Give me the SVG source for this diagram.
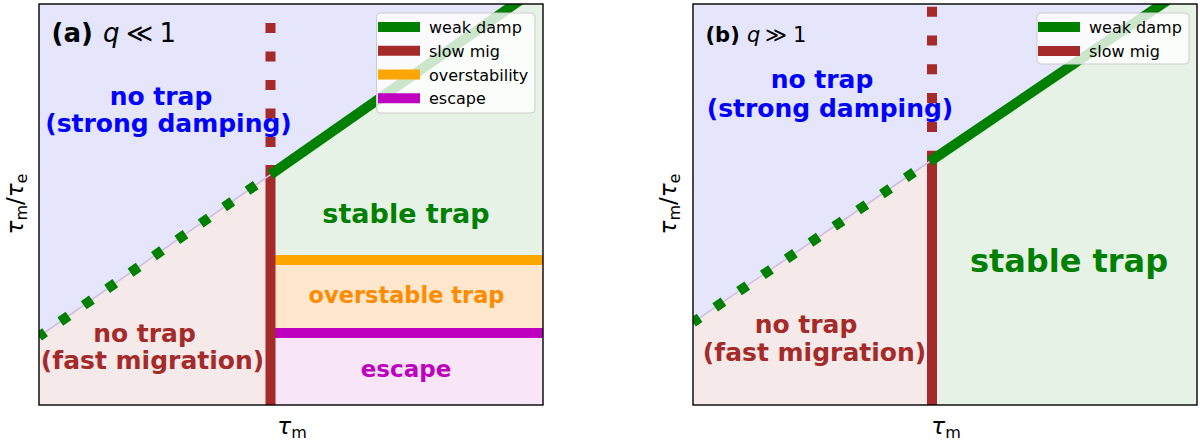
<svg xmlns="http://www.w3.org/2000/svg" width="1200" height="442" viewBox="0 0 1200 442">
<style>
text{font-family:"DejaVu Sans","Liberation Sans",sans-serif;}
.lbl{font-weight:bold;text-anchor:middle;}
.leg{font-size:16px;fill:#000;}
.legbox{fill:#fff;fill-opacity:0.8;stroke:#cccccc;stroke-width:1;}
.frame{fill:none;stroke:#000;stroke-width:1.4;}
.gsolid{stroke:#008000;stroke-width:10;fill:none;}
.gdot{stroke:#008000;stroke-width:10;fill:none;}
.bsolid{stroke:#a52a2a;stroke-width:10;fill:none;}
.edge{stroke:#cdbfe2;stroke-width:1.6;fill:none;}
.ax{font-size:23px;fill:#000;}
.it{font-style:italic;}
</style>
<defs>
<clipPath id="clipA"><rect x="39" y="4" width="504" height="401"/></clipPath>
<clipPath id="clipB"><rect x="693" y="4" width="504" height="401"/></clipPath>
</defs>
<rect width="1200" height="442" fill="#fff"/>

<g id="panelA-regions" clip-path="url(#clipA)">
<polygon id="a-nodamp" points="39,4 515.3,4 39,336.5" fill="#e5e5fc"/>
<polygon id="a-fastmig" points="39,336.5 270.5,174.7 270.5,405 39,405" fill="#f5e9e9"/>
<polygon id="a-stable" points="270.5,174.7 515.3,4 543,4 543,260 270.5,260" fill="#e6f2e6"/>
<rect id="a-overstable" x="270.5" y="260" width="272.5" height="73" fill="#fee7cc"/>
<rect id="a-escape" x="270.5" y="333" width="272.5" height="72" fill="#f8e5f8"/>
</g>

<g id="panelB-regions" clip-path="url(#clipB)">
<polygon id="b-nodamp" points="693,4 1161.5,4 693,322.4" fill="#e5e5fc"/>
<polygon id="b-fastmig" points="693,322.4 932,160 932,405 693,405" fill="#f5e9e9"/>
<polygon id="b-stable" points="932,160 1161.5,4 1197,4 1197,405 932,405" fill="#e6f2e6"/>
</g>

<g id="connectors">
<g clip-path="url(#clipA)">
<line x1="270.5" y1="260" x2="543" y2="260" stroke="#ffa500" stroke-width="10"/>
<line x1="270.5" y1="333" x2="543" y2="333" stroke="#bf00bf" stroke-width="10"/>
<line x1="270.5" y1="23" x2="270.5" y2="147" class="bsolid" stroke-dasharray="10 18.5"/>
<line x1="270.5" y1="165" x2="270.5" y2="405" class="bsolid"/>
<line x1="39" y1="336.5" x2="270.5" y2="174.7" class="edge"/>
<line x1="39" y1="336.5" x2="270.5" y2="174.7" class="gdot" stroke-dasharray="10 18.55" stroke-dashoffset="2.56"/>
<path d="M270.5,174.7 L525,-3.2" class="gsolid"/>
</g>
<g clip-path="url(#clipB)">
<line x1="932" y1="6.7" x2="932" y2="132" class="bsolid" stroke-dasharray="10 18.8"/>
<line x1="932" y1="150.7" x2="932" y2="405" class="bsolid"/>
<line x1="693" y1="322.4" x2="932" y2="160" class="edge"/>
<line x1="693" y1="322.4" x2="932" y2="160" class="gdot" stroke-dasharray="10 18.8" stroke-dashoffset="2"/>
<path d="M932,160 L1172,-2.7" class="gsolid"/>
</g>
</g>

<g id="frames">
<rect x="39" y="4" width="504" height="401" class="frame"/>
<rect x="693" y="4" width="504" height="401" class="frame"/>
</g>

<!-- Panel (a) texts -->
<g id="a-title">
<text y="42" font-size="26"><tspan x="51.5" font-weight="bold">(a)</tspan><tspan x="103" class="it">q</tspan><tspan x="126">≪</tspan><tspan x="159.5">1</tspan></text>
</g>
<g id="a-label-nodamp">
<text class="lbl" x="161" y="105" font-size="25" fill="#0000ff">no trap</text>
<text class="lbl" x="168.5" y="132" font-size="25" fill="#0000ff">(strong damping)</text>
</g>
<g id="a-label-fastmig">
<text class="lbl" x="144.5" y="342" font-size="25" fill="#a52a2a">no trap</text>
<text class="lbl" x="152.5" y="369" font-size="25" fill="#a52a2a">(fast migration)</text>
</g>
<g id="a-label-stable"><text class="lbl" x="406" y="223" font-size="27" fill="#008000">stable trap</text></g>
<g id="a-label-overstable"><text class="lbl" x="406.5" y="303" font-size="22.5" fill="#ff8c00">overstable trap</text></g>
<g id="a-label-escape"><text class="lbl" x="406" y="377" font-size="23" fill="#bf00bf">escape</text></g>

<g id="a-legend">
<rect x="376.5" y="13" width="158.5" height="100" rx="4" class="legbox"/>
<line x1="378" y1="27" x2="420" y2="27" stroke="#008000" stroke-width="10"/>
<line x1="378" y1="50.7" x2="420" y2="50.7" stroke="#a52a2a" stroke-width="10"/>
<line x1="378" y1="74.5" x2="420" y2="74.5" stroke="#ffa500" stroke-width="10"/>
<line x1="378" y1="98.2" x2="420" y2="98.2" stroke="#bf00bf" stroke-width="10"/>
<text class="leg" x="429" y="33">weak damp</text>
<text class="leg" x="429" y="56.7">slow mig</text>
<text class="leg" x="429" y="80.5">overstability</text>
<text class="leg" x="429" y="104.2">escape</text>
</g>

<g id="a-axes">
<text class="ax" x="292" y="434" text-anchor="middle"><tspan class="it">τ</tspan><tspan font-size="16" dy="3.5">m</tspan></text>
<text class="ax" transform="translate(23,204) rotate(-90)" text-anchor="middle"><tspan class="it">τ</tspan><tspan font-size="16" dy="3.5">m</tspan><tspan dy="-3.5">/</tspan><tspan class="it">τ</tspan><tspan font-size="16" dy="3.5">e</tspan></text>
</g>

<!-- Panel (b) texts -->
<g id="b-title">
<text y="42" font-size="21"><tspan x="705.5" font-weight="bold">(b)</tspan><tspan x="747" class="it">q</tspan><tspan x="765">≫</tspan><tspan x="793">1</tspan></text>
</g>
<g id="b-label-nodamp">
<text class="lbl" x="822" y="88" font-size="25" fill="#0000ff">no trap</text>
<text class="lbl" x="830" y="117" font-size="25" fill="#0000ff">(strong damping)</text>
</g>
<g id="b-label-fastmig">
<text class="lbl" x="806" y="333" font-size="25" fill="#a52a2a">no trap</text>
<text class="lbl" x="814.5" y="361" font-size="25" fill="#a52a2a">(fast migration)</text>
</g>
<g id="b-label-stable"><text class="lbl" x="1069" y="272" font-size="32" fill="#008000">stable trap</text></g>

<g id="b-legend">
<rect x="1037" y="13" width="152" height="51" rx="4" class="legbox"/>
<line x1="1038" y1="27" x2="1080" y2="27" stroke="#008000" stroke-width="10"/>
<line x1="1038" y1="51" x2="1080" y2="51" stroke="#a52a2a" stroke-width="10"/>
<text class="leg" x="1089" y="33">weak damp</text>
<text class="leg" x="1089" y="57">slow mig</text>
</g>

<g id="b-axes">
<text class="ax" x="946" y="434" text-anchor="middle"><tspan class="it">τ</tspan><tspan font-size="16" dy="3.5">m</tspan></text>
<text class="ax" transform="translate(676,204) rotate(-90)" text-anchor="middle"><tspan class="it">τ</tspan><tspan font-size="16" dy="3.5">m</tspan><tspan dy="-3.5">/</tspan><tspan class="it">τ</tspan><tspan font-size="16" dy="3.5">e</tspan></text>
</g>
</svg>
